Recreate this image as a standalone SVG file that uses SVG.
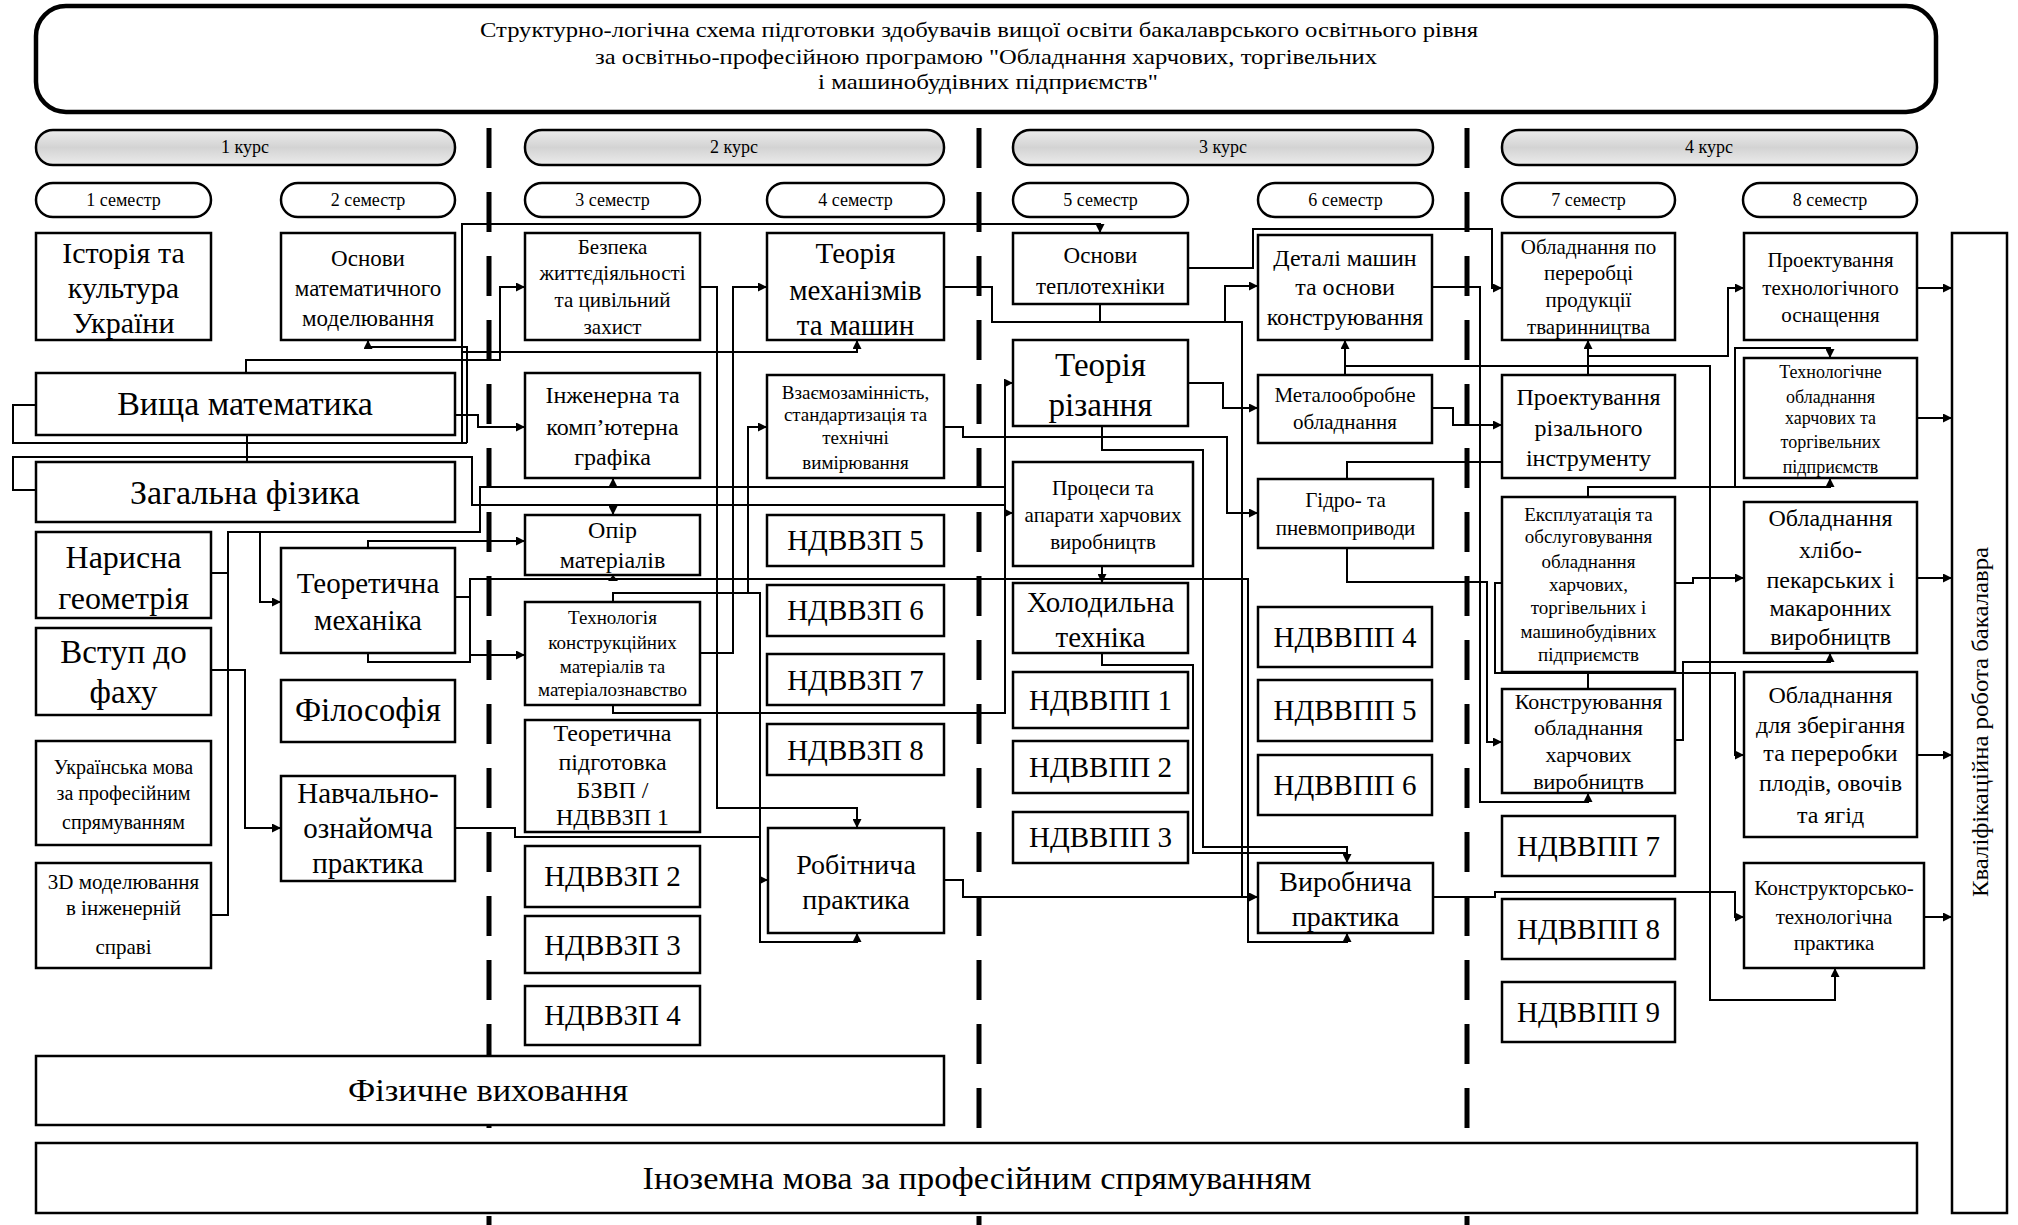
<svg xmlns="http://www.w3.org/2000/svg" width="2018" height="1225" viewBox="0 0 2018 1225">
<defs>
<style>
.b{fill:#fff;stroke:#000;stroke-width:2.5}
.t{font-family:'Liberation Serif','Times New Roman',serif;fill:#000;text-anchor:middle}
.c{fill:none;stroke:#000;stroke-width:2}
.a{marker-end:url(#ar)}
.d{stroke:#000;stroke-width:5;stroke-dasharray:40 24}
.pill{stroke:#000;stroke-width:2.5;fill:url(#g)}
.sem{fill:#fff;stroke:#000;stroke-width:2.5}
</style>
<linearGradient id="g" x1="0" y1="0" x2="0" y2="1">
<stop offset="0" stop-color="#ececec"/><stop offset="0.5" stop-color="#d3d3d3"/><stop offset="1" stop-color="#ececec"/>
</linearGradient>
<marker id="ar" viewBox="0 0 10 10" refX="10" refY="5" markerWidth="10" markerHeight="9" markerUnits="userSpaceOnUse" orient="auto"><path d="M0,0 L10,5 L0,10 z" fill="#000"/></marker>
</defs>
<rect width="2018" height="1225" fill="#fff"/>

<g id="dividers">
<line class="d" x1="489" y1="128" x2="489" y2="1225"/>
<line class="d" x1="979" y1="128" x2="979" y2="1225"/>
<line class="d" x1="1467" y1="128" x2="1467" y2="1225"/>
</g>

<g id="title">
<rect x="36" y="6" width="1900" height="106" rx="30" fill="#fff" stroke="#000" stroke-width="4.5"/>
<text class="t" font-size="21" style="text-anchor:start"><tspan x="480" y="37" textLength="998" lengthAdjust="spacingAndGlyphs">Структурно-логічна схема підготовки здобувачів вищої освіти бакалаврського освітнього рівня</tspan><tspan x="595" y="64" textLength="782" lengthAdjust="spacingAndGlyphs">за освітньо-професійною програмою "Обладнання харчових, торгівельних</tspan><tspan x="818" y="89" textLength="340" lengthAdjust="spacingAndGlyphs">і машинобудівних підприємств"</tspan></text>
</g>

<g id="courses">
<rect class="pill" x="36" y="130" width="419" height="35" rx="17"/><text class="t" font-size="18" x="245" y="153">1 курс</text>
<rect class="pill" x="525" y="130" width="419" height="35" rx="17"/><text class="t" font-size="18" x="734" y="153">2 курс</text>
<rect class="pill" x="1013" y="130" width="420" height="35" rx="17"/><text class="t" font-size="18" x="1223" y="153">3 курс</text>
<rect class="pill" x="1502" y="130" width="415" height="35" rx="17"/><text class="t" font-size="18" x="1709" y="153">4 курс</text>
</g>
<g id="semesters">
<rect class="sem" x="36" y="183" width="175" height="34" rx="17"/><text class="t" font-size="18" x="123.5" y="206">1 семестр</text>
<rect class="sem" x="281" y="183" width="174" height="34" rx="17"/><text class="t" font-size="18" x="368" y="206">2 семестр</text>
<rect class="sem" x="525" y="183" width="175" height="34" rx="17"/><text class="t" font-size="18" x="612.5" y="206">3 семестр</text>
<rect class="sem" x="767" y="183" width="177" height="34" rx="17"/><text class="t" font-size="18" x="855.5" y="206">4 семестр</text>
<rect class="sem" x="1013" y="183" width="175" height="34" rx="17"/><text class="t" font-size="18" x="1100.5" y="206">5 семестр</text>
<rect class="sem" x="1258" y="183" width="175" height="34" rx="17"/><text class="t" font-size="18" x="1345.5" y="206">6 семестр</text>
<rect class="sem" x="1502" y="183" width="173" height="34" rx="17"/><text class="t" font-size="18" x="1588.5" y="206">7 семестр</text>
<rect class="sem" x="1743" y="183" width="174" height="34" rx="17"/><text class="t" font-size="18" x="1830" y="206">8 семестр</text>
</g>

<!-- Column 1 -->
<g id="n-istoriya"><rect class="b" x="36" y="233" width="175" height="107"/><text class="t" font-size="30"><tspan x="123.5" y="263">Історія та</tspan><tspan x="123.5" y="298">культура</tspan><tspan x="123.5" y="333">України</tspan></text></g>
<g id="n-vyshcha"><rect class="b" x="36" y="373" width="419" height="62"/><text class="t" font-size="34" x="245" y="415">Вища математика</text></g>
<g id="n-fizyka"><rect class="b" x="36" y="462" width="419" height="60"/><text class="t" font-size="34" x="245" y="504">Загальна фізика</text></g>
<g id="n-narysna"><rect class="b" x="36" y="532" width="175" height="86"/><text class="t" font-size="32"><tspan x="123.5" y="568">Нарисна</tspan><tspan x="123.5" y="609">геометрія</tspan></text></g>
<g id="n-vstup"><rect class="b" x="36" y="628" width="175" height="87"/><text class="t" font-size="33"><tspan x="123.5" y="663">Вступ до</tspan><tspan x="123.5" y="703">фаху</tspan></text></g>
<g id="n-ukr"><rect class="b" x="36" y="741" width="175" height="104"/><text class="t" font-size="20"><tspan x="123.5" y="774">Українська мова</tspan><tspan x="123.5" y="800">за професійним</tspan><tspan x="123.5" y="829">спрямуванням</tspan></text></g>
<g id="n-3d"><rect class="b" x="36" y="863" width="175" height="105"/><text class="t" font-size="21"><tspan x="123.5" y="889">3D моделювання</tspan><tspan x="123.5" y="915">в інженерній</tspan><tspan x="123.5" y="954">справі</tspan></text></g>

<!-- Column 2 -->
<g id="n-osnovy-mat"><rect class="b" x="281" y="233" width="174" height="107"/><text class="t" font-size="23"><tspan x="368" y="266">Основи</tspan><tspan x="368" y="296">математичного</tspan><tspan x="368" y="326">моделювання</tspan></text></g>
<g id="n-teor-mekh"><rect class="b" x="281" y="548" width="174" height="105"/><text class="t" font-size="29"><tspan x="368" y="593">Теоретична</tspan><tspan x="368" y="630">механіка</tspan></text></g>
<g id="n-filosofiya"><rect class="b" x="281" y="680" width="174" height="62"/><text class="t" font-size="33" x="368" y="721">Філософія</text></g>
<g id="n-navch"><rect class="b" x="281" y="776" width="174" height="105"/><text class="t" font-size="29"><tspan x="368" y="803">Навчально-</tspan><tspan x="368" y="838">ознайомча</tspan><tspan x="368" y="873">практика</tspan></text></g>

<!-- Column 3 -->
<g id="n-bezpeka"><rect class="b" x="525" y="233" width="175" height="107"/><text class="t" font-size="21"><tspan x="612.5" y="254">Безпека</tspan><tspan x="612.5" y="280">життєдіяльності</tspan><tspan x="612.5" y="307">та цивільний</tspan><tspan x="612.5" y="334">захист</tspan></text></g>
<g id="n-inzh"><rect class="b" x="525" y="373" width="175" height="105"/><text class="t" font-size="24"><tspan x="612.5" y="403">Інженерна та</tspan><tspan x="612.5" y="435">комп’ютерна</tspan><tspan x="612.5" y="465">графіка</tspan></text></g>
<g id="n-opir"><rect class="b" x="525" y="515" width="175" height="60"/><text class="t" font-size="24"><tspan x="612.5" y="538">Опір</tspan><tspan x="612.5" y="568">матеріалів</tspan></text></g>
<g id="n-tekhn"><rect class="b" x="525" y="602" width="175" height="103"/><text class="t" font-size="19"><tspan x="612.5" y="624">Технологія</tspan><tspan x="612.5" y="649">конструкційних</tspan><tspan x="612.5" y="673">матеріалів та</tspan><tspan x="612.5" y="696">матеріалознавство</tspan></text></g>
<g id="n-teor-pidg"><rect class="b" x="525" y="720" width="175" height="112"/><text class="t" font-size="24"><tspan x="612.5" y="741">Теоретична</tspan><tspan x="612.5" y="770">підготовка</tspan><tspan x="612.5" y="798">БЗВП /</tspan><tspan x="612.5" y="825">НДВВЗП 1</tspan></text></g>
<g id="n-ndvvzp2"><rect class="b" x="525" y="846" width="175" height="61"/><text class="t" font-size="29" x="612.5" y="886">НДВВЗП 2</text></g>
<g id="n-ndvvzp3"><rect class="b" x="525" y="916" width="175" height="57"/><text class="t" font-size="29" x="612.5" y="955">НДВВЗП 3</text></g>
<g id="n-ndvvzp4"><rect class="b" x="525" y="986" width="175" height="59"/><text class="t" font-size="29" x="612.5" y="1025">НДВВЗП 4</text></g>

<!-- Column 4 -->
<g id="n-tmm"><rect class="b" x="767" y="233" width="177" height="107"/><text class="t" font-size="29"><tspan x="855.5" y="263">Теорія</tspan><tspan x="855.5" y="300">механізмів</tspan><tspan x="855.5" y="335">та машин</tspan></text></g>
<g id="n-vzaiemo"><rect class="b" x="767" y="375" width="177" height="103"/><text class="t" font-size="19"><tspan x="855.5" y="399">Взаємозамінність,</tspan><tspan x="855.5" y="421">стандартизація та</tspan><tspan x="855.5" y="444">технічні</tspan><tspan x="855.5" y="469">вимірювання</tspan></text></g>
<g id="n-ndvvzp5"><rect class="b" x="767" y="515" width="177" height="51"/><text class="t" font-size="29" x="855.5" y="550">НДВВЗП 5</text></g>
<g id="n-ndvvzp6"><rect class="b" x="767" y="585" width="177" height="51"/><text class="t" font-size="29" x="855.5" y="620">НДВВЗП 6</text></g>
<g id="n-ndvvzp7"><rect class="b" x="767" y="654" width="177" height="51"/><text class="t" font-size="29" x="855.5" y="690">НДВВЗП 7</text></g>
<g id="n-ndvvzp8"><rect class="b" x="767" y="724" width="177" height="51"/><text class="t" font-size="29" x="855.5" y="760">НДВВЗП 8</text></g>
<g id="n-robit"><rect class="b" x="768" y="828" width="176" height="105"/><text class="t" font-size="28"><tspan x="856" y="874">Робітнича</tspan><tspan x="856" y="909">практика</tspan></text></g>

<!-- Column 5 -->
<g id="n-teplo"><rect class="b" x="1013" y="233" width="175" height="71"/><text class="t" font-size="23"><tspan x="1100.5" y="263">Основи</tspan><tspan x="1100.5" y="294">теплотехніки</tspan></text></g>
<g id="n-rizannya"><rect class="b" x="1013" y="340" width="175" height="86"/><text class="t" font-size="33"><tspan x="1100.5" y="376">Теорія</tspan><tspan x="1100.5" y="416">різання</tspan></text></g>
<g id="n-protsesy"><rect class="b" x="1013" y="462" width="180" height="104"/><text class="t" font-size="21"><tspan x="1103" y="495">Процеси та</tspan><tspan x="1103" y="522">апарати харчових</tspan><tspan x="1103" y="549">виробництв</tspan></text></g>
<g id="n-kholod"><rect class="b" x="1013" y="583" width="175" height="70"/><text class="t" font-size="29"><tspan x="1100.5" y="612">Холодильна</tspan><tspan x="1100.5" y="647">техніка</tspan></text></g>
<g id="n-ndvvpp1"><rect class="b" x="1013" y="672" width="175" height="56"/><text class="t" font-size="29" x="1100.5" y="710">НДВВПП 1</text></g>
<g id="n-ndvvpp2"><rect class="b" x="1013" y="741" width="175" height="52"/><text class="t" font-size="29" x="1100.5" y="777">НДВВПП 2</text></g>
<g id="n-ndvvpp3"><rect class="b" x="1013" y="812" width="175" height="51"/><text class="t" font-size="29" x="1100.5" y="847">НДВВПП 3</text></g>

<!-- Column 6 -->
<g id="n-detali"><rect class="b" x="1258" y="235" width="174" height="105"/><text class="t" font-size="24"><tspan x="1345" y="266">Деталі машин</tspan><tspan x="1345" y="295">та основи</tspan><tspan x="1345" y="325">конструювання</tspan></text></g>
<g id="n-metalo"><rect class="b" x="1258" y="375" width="174" height="68"/><text class="t" font-size="21"><tspan x="1345" y="402">Металообробне</tspan><tspan x="1345" y="429">обладнання</tspan></text></g>
<g id="n-hidro"><rect class="b" x="1258" y="479" width="175" height="69"/><text class="t" font-size="21"><tspan x="1345.5" y="507">Гідро- та</tspan><tspan x="1345.5" y="535">пневмоприводи</tspan></text></g>
<g id="n-ndvvpp4"><rect class="b" x="1258" y="607" width="174" height="60"/><text class="t" font-size="29" x="1345" y="647">НДВВПП 4</text></g>
<g id="n-ndvvpp5"><rect class="b" x="1258" y="680" width="174" height="61"/><text class="t" font-size="29" x="1345" y="720">НДВВПП 5</text></g>
<g id="n-ndvvpp6"><rect class="b" x="1258" y="755" width="174" height="60"/><text class="t" font-size="29" x="1345" y="795">НДВВПП 6</text></g>
<g id="n-vyrob"><rect class="b" x="1258" y="863" width="175" height="70"/><text class="t" font-size="28"><tspan x="1345.5" y="891">Виробнича</tspan><tspan x="1345.5" y="926">практика</tspan></text></g>

<!-- Column 7 -->
<g id="n-pererob"><rect class="b" x="1502" y="233" width="173" height="107"/><text class="t" font-size="21"><tspan x="1588.5" y="254">Обладнання по</tspan><tspan x="1588.5" y="280">переробці</tspan><tspan x="1588.5" y="307">продукції</tspan><tspan x="1588.5" y="334">тваринництва</tspan></text></g>
<g id="n-riz-instr"><rect class="b" x="1502" y="375" width="173" height="103"/><text class="t" font-size="24"><tspan x="1588.5" y="405">Проектування</tspan><tspan x="1588.5" y="436">різального</tspan><tspan x="1588.5" y="466">інструменту</tspan></text></g>
<g id="n-ekspl"><rect class="b" x="1502" y="497" width="173" height="175" stroke-width="3.5"/><text class="t" font-size="19"><tspan x="1588.5" y="521">Експлуатація та</tspan><tspan x="1588.5" y="543">обслуговування</tspan><tspan x="1588.5" y="568">обладнання</tspan><tspan x="1588.5" y="591">харчових,</tspan><tspan x="1588.5" y="614">торгівельних і</tspan><tspan x="1588.5" y="638">машинобудівних</tspan><tspan x="1588.5" y="661">підприємств</tspan></text></g>
<g id="n-konstr"><rect class="b" x="1502" y="689" width="173" height="104"/><text class="t" font-size="22"><tspan x="1588.5" y="709">Конструювання</tspan><tspan x="1588.5" y="735">обладнання</tspan><tspan x="1588.5" y="762">харчових</tspan><tspan x="1588.5" y="789">виробництв</tspan></text></g>
<g id="n-ndvvpp7"><rect class="b" x="1502" y="816" width="173" height="60"/><text class="t" font-size="29" x="1588.5" y="856">НДВВПП 7</text></g>
<g id="n-ndvvpp8"><rect class="b" x="1502" y="899" width="173" height="60"/><text class="t" font-size="29" x="1588.5" y="939">НДВВПП 8</text></g>
<g id="n-ndvvpp9"><rect class="b" x="1502" y="982" width="173" height="60"/><text class="t" font-size="29" x="1588.5" y="1022">НДВВПП 9</text></g>

<!-- Column 8 -->
<g id="n-osnasch"><rect class="b" x="1744" y="233" width="173" height="107"/><text class="t" font-size="21"><tspan x="1830.5" y="267">Проектування</tspan><tspan x="1830.5" y="295">технологічного</tspan><tspan x="1830.5" y="322">оснащення</tspan></text></g>
<g id="n-tekh-obl"><rect class="b" x="1744" y="358" width="173" height="120"/><text class="t" font-size="18"><tspan x="1830.5" y="378">Технологічне</tspan><tspan x="1830.5" y="403">обладнання</tspan><tspan x="1830.5" y="424">харчових та</tspan><tspan x="1830.5" y="448">торгівельних</tspan><tspan x="1830.5" y="473">підприємств</tspan></text></g>
<g id="n-khlib"><rect class="b" x="1744" y="502" width="173" height="151"/><text class="t" font-size="24"><tspan x="1830.5" y="526">Обладнання</tspan><tspan x="1830.5" y="558">хлібо-</tspan><tspan x="1830.5" y="588">пекарських і</tspan><tspan x="1830.5" y="616">макаронних</tspan><tspan x="1830.5" y="645">виробництв</tspan></text></g>
<g id="n-zberig"><rect class="b" x="1744" y="672" width="173" height="165"/><text class="t" font-size="24"><tspan x="1830.5" y="703">Обладнання</tspan><tspan x="1830.5" y="733">для зберігання</tspan><tspan x="1830.5" y="761">та переробки</tspan><tspan x="1830.5" y="791">плодів, овочів</tspan><tspan x="1830.5" y="823">та ягід</tspan></text></g>
<g id="n-kt-prakt"><rect class="b" x="1744" y="863" width="180" height="105"/><text class="t" font-size="21"><tspan x="1834" y="895">Конструкторсько-</tspan><tspan x="1834" y="924">технологічна</tspan><tspan x="1834" y="950">практика</tspan></text></g>

<g id="n-kvalif"><rect class="b" x="1952" y="233" width="55" height="980" stroke-width="3"/><text class="t" font-size="24" transform="translate(1988 722) rotate(-90)" x="0" y="0" textLength="350" lengthAdjust="spacingAndGlyphs">Кваліфікаційна робота бакалавра</text></g>

<g id="n-fizvykh"><rect class="b" x="36" y="1056" width="908" height="69"/><text class="t" font-size="32" x="488" y="1101" textLength="280" lengthAdjust="spacingAndGlyphs">Фізичне виховання</text></g>
<g id="n-inozemna"><rect class="b" x="36" y="1143" width="1881" height="70"/><text class="t" font-size="32" x="977" y="1189" textLength="669" lengthAdjust="spacingAndGlyphs">Іноземна мова за професійним спрямуванням</text></g>

<g id="connectors">
<path class="c" d="M36 405 H13 V443 H467"/>
<path class="c a" d="M462 443 V224 H1100 V233"/>
<path class="c" d="M36 490 H13 V457 H472 V505 H1005"/>
<path class="c a" d="M246 373 V360 H500 V287 H525"/>
<path class="c a" d="M467 443 V347 H368 V340"/>
<path class="c a" d="M462 352 H857 V340"/>
<path class="c a" d="M455 415 H478 V427 H525"/>
<path class="c" d="M211 915 H228 V532 H480 V487 H1005"/>
<path class="c" d="M211 573 H228"/>
<path class="c a" d="M613 487 V478"/>
<path class="c a" d="M613 505 V515"/>
<path class="c" d="M247 435 V462"/>
<path class="c a" d="M260 532 V602 H281"/>
<path class="c a" d="M368 548 V541 H525"/>
<path class="c a" d="M455 597 H470 V655 H525"/>
<path class="c" d="M368 653 V662 H470 V597"/>
<path class="c a" d="M470 597 V579 H1248 V942 H1347 V933"/>
<polygon points="613,575 608,581 618,581" fill="#000"/>
<path class="c a" d="M211 670 H245 V828 H281"/>
<path class="c" d="M455 828 H515 V837 H760"/>
<path class="c a" d="M700 287 H717 V808 H857 V828"/>
<path class="c a" d="M700 653 H733 V287 H767"/>
<path class="c a" d="M613 602 V593 H748 V427 H767"/>
<path class="c a" d="M748 593 H760 V942 H857 V933"/>
<path class="c a" d="M760 880 H768"/>
<path class="c a" d="M613 705 V713 H1005 V383 H1013"/>
<path class="c a" d="M1005 513 H1013"/>
<path class="c a" d="M944 880 H963 V897 H1258"/>
<path class="c a" d="M944 287 H992 V322 H1225 V286 H1258"/>
<path class="c a" d="M944 427 H963 V437 H1227 V513 H1258"/>
<path class="c a" d="M1188 268 H1253 V229 H1492 V288 H1502"/>
<path class="c" d="M1100 304 V322 H1242 V897"/>
<path class="c a" d="M1188 383 H1223 V408 H1258"/>
<path class="c a" d="M1102 426 V450 H1203 V847 H1347 V863"/>
<path class="c a" d="M1102 566 V583"/>
<path class="c" d="M1102 653 V665 H1193 V853 H1347"/>
<path class="c a" d="M1345 375 V340"/>
<path class="c a" d="M1345 375 V366 H1710 V1000 H1835 V968"/>
<path class="c a" d="M1432 408 H1453 V425 H1502"/>
<path class="c" d="M1347 479 V462 H1502"/>
<path class="c a" d="M1347 548 V582 H1487 V742 H1502"/>
<path class="c a" d="M1432 287 H1480 V802 H1588 V793"/>
<path class="c a" d="M1588 375 V340"/>
<path class="c a" d="M1588 356 H1728 V288 H1744"/>
<path class="c a" d="M1588 497 V487 H1830 V478"/>
<path class="c a" d="M1735 487 V348 H1830 V358"/>
<path class="c a" d="M1675 583 H1693 V578 H1744"/>
<path class="c a" d="M1675 740 H1683 V662 H1830 V653"/>
<path class="c a" d="M1502 583 H1495 V673 H1735 V755 H1744"/>
<path class="c" d="M1588 673 V689"/>
<path class="c a" d="M1433 897 H1495 V892 H1735 V917 H1744"/>
<path class="c a" d="M1917 288 H1952"/>
<path class="c a" d="M1917 418 H1952"/>
<path class="c a" d="M1917 578 H1952"/>
<path class="c a" d="M1917 755 H1952"/>
<path class="c a" d="M1924 917 H1952"/>
</g>
</svg>
